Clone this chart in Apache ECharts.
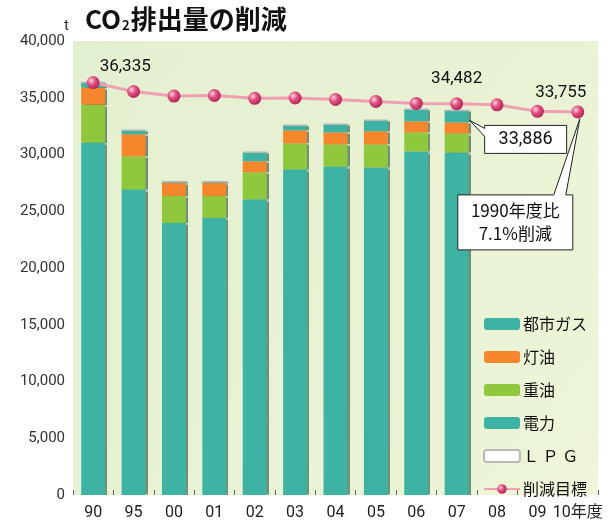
<!DOCTYPE html>
<html>
<head>
<meta charset="utf-8">
<script src="https://cdn.jsdelivr.net/npm/echarts@6/dist/echarts.min.js"></script>
<style>
html,body{margin:0;padding:0;background:#fff;}
#c{width:612px;height:526px;}
</style>
</head>
<body>
<div id="c"></div>
<script>
// ---- data ----
const categories = ['90','95','00','01','02','03','04','05','06','07','08','09','10年度'];
const denryoku = [31045, 26930, 23970, 24410, 26050, 28690, 28950, 28860, 30270, 30176, null, null, null];
const juyu     = [3350, 2910, 2380, 1940, 2380, 2290, 1940, 2030, 1680, 1680, null, null, null];
const touyu    = [1500, 1940, 1150, 1150, 970, 1150, 1060, 1150, 970, 970, null, null, null];
const toshiGas = [440, 350, 100, 100, 790, 440, 710, 970, 1060, 1060, null, null, null];
const lpg      = [0, 0, 0, 0, 0, 0, 0, 0, 0, 0, null, null, null];
const target   = [36335, 35550, 35150, 35200, 34950, 34980, 34850, 34680, 34500, 34482, 34380, 33800, 33755];
const yTicks   = [0, 5000, 10000, 15000, 20000, 25000, 30000, 35000, 40000];
const labeledTarget = [0, 9, 12];
const actual07 = 33886;
const noteText = '1990年度比\n7.1%削減';

const FONT = 'Roboto, "Noto Sans CJK JP", sans-serif';
const JFONT = '"Noto Sans CJK JP", sans-serif';
const TEAL = '#3db3a3', GREEN = '#8fc83c', ORANGE = '#f5862b';

const chart = echarts.init(document.getElementById('c'), null, {renderer: 'canvas'});

function barSeries(name, data, color) {
  return {
    name, type: 'bar', stack: 'co2', data, barWidth: 24,
    itemStyle: {color, shadowColor: 'rgba(20,60,40,0.55)', shadowOffsetX: 2, shadowBlur: 1},
    emphasis: {disabled: true}
  };
}

const ball = new echarts.graphic.RadialGradient(0.35, 0.35, 0.7, [
  {offset: 0, color: '#ffd0e0'}, {offset: 0.45, color: '#e0507e'}, {offset: 1, color: '#b02458'}
]);

const targetData = target.map((v, i) => {
  const item = {value: v};
  if (labeledTarget.includes(i)) {
    const off = i === 0 ? [32, 4] : (i === 9 ? [0, -5] : [-17, 1]);
    item.label = {show: true, position: 'top', offset: off,
      formatter: (p) => p.value.toLocaleString('en-US'),
      fontSize: 17, color: '#111', fontFamily: FONT};
  }
  return item;
});

const option = {
  animation: false,
  backgroundColor: '#ffffff',
  title: {
    text: '{a|CO}{b|2}{a|排出量の削減}',
    left: 80, top: 1,
    textStyle: {
      rich: {
        a: {fontSize: 26, fontWeight: 'bold', color: '#111', fontFamily: JFONT},
        b: {fontSize: 13, fontWeight: 'bold', color: '#111', fontFamily: JFONT, verticalAlign: 'bottom', padding: [12, 1, 0, 1]}
      }
    }
  },
  grid: {left: 73, right: 14, top: 41, bottom: 31, show: true,
    backgroundColor: new echarts.graphic.LinearGradient(0, 0, 1, 1, [
      {offset: 0, color: '#e3f0cf'}, {offset: 1, color: '#eef5d8'}
    ]),
    borderWidth: 0},
  legend: {
    orient: 'vertical', left: 478, top: 311, itemGap: 17,
    itemWidth: 36, itemHeight: 12,
    data: ['都市ガス', '灯油', '重油', '電力', 'LPG', '削減目標'],
    formatter: (n) => n === 'LPG' ? 'Ｌ Ｐ Ｇ' : n,
    textStyle: {fontSize: 16, color: '#111', fontFamily: JFONT, padding: [0, 0, 0, -2]}
  },
  xAxis: {
    type: 'category', data: categories,
    axisLine: {show: false},
    axisTick: {show: true, alignWithLabel: false, interval: 0, length: 5, inside: true, lineStyle: {color: '#666'}},
    axisLabel: {interval: 0, hideOverlap: false, fontSize: 16, color: '#222', fontFamily: FONT, margin: 10}
  },
  yAxis: {
    type: 'value', min: 0, max: 40000, interval: 5000,
    name: 't', nameLocation: 'end', nameGap: 6,
    nameTextStyle: {fontSize: 15, color: '#333', fontFamily: FONT, align: 'right', padding: [0, 4, 0, 0]},
    axisLine: {show: false}, axisTick: {show: false}, splitLine: {show: false},
    axisLabel: {fontSize: 15, color: '#333', fontFamily: FONT, margin: 8,
      formatter: (v) => yTicks.includes(v) ? v.toLocaleString('en-US') : ''}
  },
  series: [
    barSeries('電力', denryoku, TEAL),
    barSeries('重油', juyu, GREEN),
    barSeries('灯油', touyu, ORANGE),
    barSeries('都市ガス', toshiGas, TEAL),
    Object.assign(barSeries('LPG', lpg, '#ffffff'), {itemStyle: {color: '#ffffff', borderColor: '#b8b8b8', borderWidth: 1.5}}),
    {
      name: '削減目標', type: 'line', data: targetData, z: 5,
      symbol: 'circle', symbolSize: 13, showSymbol: true,
      lineStyle: {color: '#ef9fb3', width: 3},
      itemStyle: {color: ball},
      emphasis: {disabled: true}
    }
  ]
};
chart.setOption(option);

// callouts anchored to data positions
const p07 = chart.convertToPixel({xAxisIndex: 0, yAxisIndex: 0}, [9, actual07]);
const p10 = chart.convertToPixel({xAxisIndex: 0, yAxisIndex: 0}, [12, target[12]]);
const b1 = {x: p07[0] + 28, y: p07[1] + 15, w: 82, h: 28};
const tip1 = [p07[0] + 13, p07[1] + 10];
const b2 = {x: p10[0] - 120, y: p10[1] + 83, w: 115, h: 55};
const tip2 = [p10[0] + 2, p10[1] + 7];
chart.setOption({
  graphic: [
    {type: 'polygon', z: 100, shape: {points: [
      [b1.x, b1.y], [b1.x + b1.w, b1.y], [b1.x + b1.w, b1.y + b1.h], [b1.x, b1.y + b1.h],
      [b1.x, b1.y + 11], tip1, [b1.x, b1.y + 3]]},
      style: {fill: '#fff', stroke: '#222', lineWidth: 1}},
    {type: 'text', z: 101, x: b1.x + b1.w / 2, y: b1.y + b1.h / 2,
      style: {text: actual07.toLocaleString('en-US'), fontSize: 18, fill: '#111', fontFamily: FONT,
        align: 'center', verticalAlign: 'middle'}},
    {type: 'polygon', z: 100, shape: {points: [
      [b2.x, b2.y], [b2.x + b2.w - 19, b2.y], tip2, [b2.x + b2.w - 7, b2.y],
      [b2.x + b2.w, b2.y], [b2.x + b2.w, b2.y + b2.h], [b2.x, b2.y + b2.h]]},
      style: {fill: '#fff', stroke: '#222', lineWidth: 1}},
    {type: 'text', z: 101, x: b2.x + b2.w / 2, y: b2.y + b2.h / 2,
      style: {text: noteText, fontSize: 17, lineHeight: 23, fill: '#111', fontFamily: JFONT,
        align: 'center', verticalAlign: 'middle'}}
  ]
});
</script>
</body>
</html>
